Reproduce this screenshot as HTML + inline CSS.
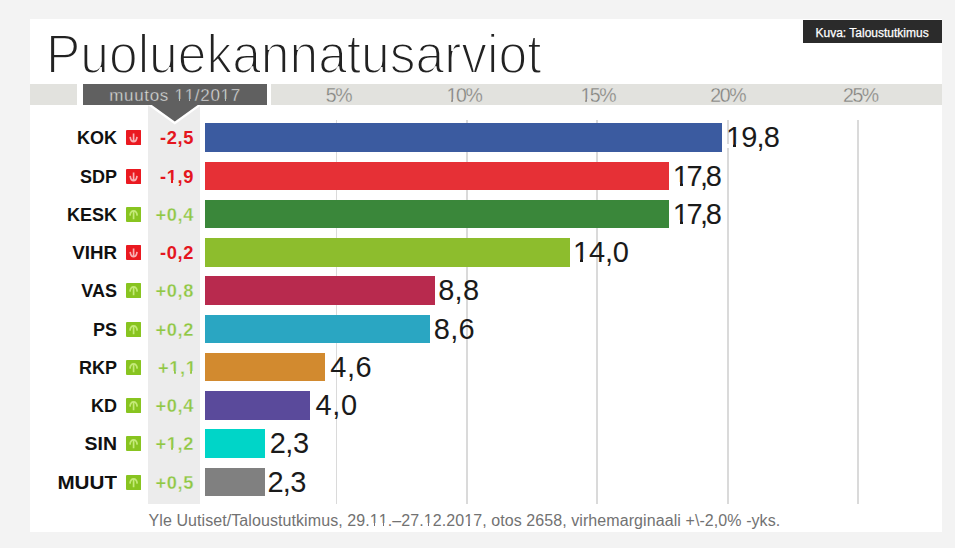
<!DOCTYPE html>
<html><head><meta charset="utf-8">
<style>
*{margin:0;padding:0;box-sizing:border-box}
html,body{width:955px;height:548px;overflow:hidden;background:#f3f3f3;font-family:"Liberation Sans",sans-serif}
.a{position:absolute}
#card{left:30px;top:18.5px;width:911.5px;height:513.3px;background:#fff}
#kuva{left:803px;top:20.3px;width:139px;height:22.5px;background:#2b2b2b;color:#fff;font-size:12px;line-height:23px;padding-top:1.5px;padding-left:12.5px;white-space:nowrap;-webkit-text-stroke:0.25px #fff}
#title{left:46px;top:24px;font-size:56px;line-height:60px;color:#222;white-space:nowrap;letter-spacing:0px;transform:scaleX(0.92);transform-origin:0 0;-webkit-text-stroke:1.9px #fff}
.hb{top:84px;height:21px;background:#e2e2de}
#dark{left:83px;top:84px;width:184px;height:21px;background:#606060;color:#e0e0e0;font-size:17px;line-height:23px;text-align:center;white-space:nowrap;letter-spacing:0.7px;-webkit-text-stroke:0.4px #606060}
.ax{top:84px;height:21px;line-height:23px;font-size:19.5px;color:#808080;width:60px;text-align:center;letter-spacing:-1.4px;-webkit-text-stroke:0.3px #e2e2de}
#chg{left:147.5px;top:105px;width:52.5px;height:398.5px;background:#ececec}
.gl{top:120px;width:1.8px;height:383.5px;background:#dadada}
.row{left:0;width:955px;height:28.7px}
.nm{position:absolute;transform-origin:100% 50%;right:838px;top:0;line-height:30px;font-size:18px;font-weight:bold;color:#111;white-space:nowrap}
.ic{position:absolute;left:125.5px;top:7.1px;width:15.2px;height:15px}
.cv{position:absolute;right:761px;top:0;line-height:29px;font-size:18.3px;font-weight:bold;white-space:nowrap;letter-spacing:0.6px}
.cdn{color:#e4161e}
.cup{color:#8fc743;-webkit-text-stroke:0.3px #ececec}
.bar{position:absolute;left:205.3px;top:0;height:28.7px}
.val{position:absolute;top:0;line-height:28.6px;font-size:29px;color:#1a1a1a;white-space:nowrap}

.one{position:relative}
.one::before,.one::after{content:"";position:absolute;bottom:calc(0.212em - 0.7px);height:calc(0.085em + 1.6px)}
.one::before{left:0.04em;width:0.21em}
.one::after{left:0.335em;width:0.22em}
.ov::before,.ov::after{background:#fff}
.oax::before,.oax::after{background:#e2e2de}
.odk::before,.odk::after{background:#606060}
.ocv::before,.ocv::after{background:#ececec;height:calc(0.105em + 1.6px);bottom:calc(0.212em - 0.7px)}
.ocv::before{left:0.03em;width:0.205em}
.ocv::after{left:0.365em;width:0.2em}
#foot{left:148.5px;top:510.7px;font-size:16px;line-height:20px;color:#727272;white-space:nowrap;letter-spacing:0.08px}
</style></head><body>
<div class="a" id="card"></div>
<div class="a" id="kuva">Kuva: Taloustutkimus</div>
<div class="a" id="title">Puoluekannatusarviot</div>
<div class="a hb" style="left:30px;width:47px"></div>
<div class="a hb" style="left:270.5px;width:671.5px"></div>
<div class="a ax" style="left:308.57px">5%</div>
<div class="a ax" style="left:433.95px"><span class="one oax">1</span>0%</div>
<div class="a ax" style="left:567.82px"><span class="one oax">1</span>5%</div>
<div class="a ax" style="left:697.70px">20%</div>
<div class="a ax" style="left:830.37px">25%</div>
<div class="a" id="chg"></div>
<div class="a gl" style="left:335.68px"></div>
<div class="a gl" style="left:466.05px"></div>
<div class="a gl" style="left:596.42px"></div>
<div class="a gl" style="left:726.80px"></div>
<div class="a gl" style="left:857.17px"></div>
<div class="a" id="dark">muutos <span class="one odk">1</span><span class="one odk">1</span>/20<span class="one odk">1</span>7</div>
<svg class="a" style="left:146px;top:101px" width="58" height="25" viewBox="146 101 58 25"><polygon points="146.6,102.6 203,102.6 174.8,123" fill="#606060" stroke="#fff" stroke-width="2.4"/><rect x="146" y="101" width="58" height="4" fill="#606060"/></svg>
<div class="a row" style="top:123.30px"><span class="nm" style="transform:scaleX(1.000)">KOK</span><svg class="ic" viewBox="0 0 14.5 14.5" preserveAspectRatio="none"><rect width="14.5" height="14.5" rx="1" fill="#ea1920"/><path d="M7.25 3.4V11.4M4 6.6C4.3 9.6 5.8 11.3 7.25 11.3C8.7 11.3 10.2 9.6 10.5 6.6" stroke="#f8b0b3" stroke-width="1.6" fill="none"/></svg><span class="cv cdn">-2,5</span><span class="bar" style="width:516.28px;background:#3b5ba0"></span><span class="val" style="left:725.89px;letter-spacing:-0.80px"><span class="one ov">1</span>9,8</span></div>
<div class="a row" style="top:161.55px"><span class="nm" style="transform:scaleX(1.000)">SDP</span><svg class="ic" viewBox="0 0 14.5 14.5" preserveAspectRatio="none"><rect width="14.5" height="14.5" rx="1" fill="#ea1920"/><path d="M7.25 3.4V11.4M4 6.6C4.3 9.6 5.8 11.3 7.25 11.3C8.7 11.3 10.2 9.6 10.5 6.6" stroke="#f8b0b3" stroke-width="1.6" fill="none"/></svg><span class="cv cdn">-<span class="one ocv">1</span>,9</span><span class="bar" style="width:464.13px;background:#e63036"></span><span class="val" style="left:672.83px;letter-spacing:-2.50px"><span class="one ov">1</span>7,8</span></div>
<div class="a row" style="top:199.80px"><span class="nm" style="transform:scaleX(1.000)">KESK</span><svg class="ic" viewBox="0 0 14.5 14.5" preserveAspectRatio="none"><rect width="14.5" height="14.5" rx="1" fill="#88c420"/><path d="M7.25 11.8V3.8M3.8 8.4C4.1 5.4 5.8 3.8 7.25 3.8C8.7 3.8 10.4 5.4 10.7 8.4" stroke="#c4ea78" stroke-width="1.6" fill="none"/></svg><span class="cv cup">+0,4</span><span class="bar" style="width:464.13px;background:#3a873a"></span><span class="val" style="left:672.83px;letter-spacing:-2.50px"><span class="one ov">1</span>7,8</span></div>
<div class="a row" style="top:238.05px"><span class="nm" style="transform:scaleX(1.040)">VIHR</span><svg class="ic" viewBox="0 0 14.5 14.5" preserveAspectRatio="none"><rect width="14.5" height="14.5" rx="1" fill="#ea1920"/><path d="M7.25 3.4V11.4M4 6.6C4.3 9.6 5.8 11.3 7.25 11.3C8.7 11.3 10.2 9.6 10.5 6.6" stroke="#f8b0b3" stroke-width="1.6" fill="none"/></svg><span class="cv cdn">-0,2</span><span class="bar" style="width:365.05px;background:#8dbd2d"></span><span class="val" style="left:573.05px;letter-spacing:-0.17px"><span class="one ov">1</span>4,0</span></div>
<div class="a row" style="top:276.30px"><span class="nm" style="transform:scaleX(1.000)">VAS</span><svg class="ic" viewBox="0 0 14.5 14.5" preserveAspectRatio="none"><rect width="14.5" height="14.5" rx="1" fill="#88c420"/><path d="M7.25 11.8V3.8M3.8 8.4C4.1 5.4 5.8 3.8 7.25 3.8C8.7 3.8 10.4 5.4 10.7 8.4" stroke="#c4ea78" stroke-width="1.6" fill="none"/></svg><span class="cv cup">+0,8</span><span class="bar" style="width:229.46px;background:#b82a4e"></span><span class="val" style="left:438.16px;letter-spacing:0.30px">8,8</span></div>
<div class="a row" style="top:314.55px"><span class="nm" style="transform:scaleX(1.000)">PS</span><svg class="ic" viewBox="0 0 14.5 14.5" preserveAspectRatio="none"><rect width="14.5" height="14.5" rx="1" fill="#88c420"/><path d="M7.25 11.8V3.8M3.8 8.4C4.1 5.4 5.8 3.8 7.25 3.8C8.7 3.8 10.4 5.4 10.7 8.4" stroke="#c4ea78" stroke-width="1.6" fill="none"/></svg><span class="cv cup">+0,2</span><span class="bar" style="width:224.24px;background:#2aa6c2"></span><span class="val" style="left:433.85px;letter-spacing:0.23px">8,6</span></div>
<div class="a row" style="top:352.80px"><span class="nm" style="transform:scaleX(1.000)">RKP</span><svg class="ic" viewBox="0 0 14.5 14.5" preserveAspectRatio="none"><rect width="14.5" height="14.5" rx="1" fill="#88c420"/><path d="M7.25 11.8V3.8M3.8 8.4C4.1 5.4 5.8 3.8 7.25 3.8C8.7 3.8 10.4 5.4 10.7 8.4" stroke="#c4ea78" stroke-width="1.6" fill="none"/></svg><span class="cv cup" style="right:758.5px">+<span class="one ocv">1</span>,<span class="one ocv">1</span></span><span class="bar" style="width:119.94px;background:#d28a2f"></span><span class="val" style="left:330.15px;letter-spacing:0.63px">4,6</span></div>
<div class="a row" style="top:391.05px"><span class="nm" style="transform:scaleX(1.000)">KD</span><svg class="ic" viewBox="0 0 14.5 14.5" preserveAspectRatio="none"><rect width="14.5" height="14.5" rx="1" fill="#88c420"/><path d="M7.25 11.8V3.8M3.8 8.4C4.1 5.4 5.8 3.8 7.25 3.8C8.7 3.8 10.4 5.4 10.7 8.4" stroke="#c4ea78" stroke-width="1.6" fill="none"/></svg><span class="cv cup">+0,4</span><span class="bar" style="width:104.30px;background:#5a4a9b"></span><span class="val" style="left:315.50px;letter-spacing:0.63px">4,0</span></div>
<div class="a row" style="top:429.30px"><span class="nm" style="transform:scaleX(1.080)">SIN</span><svg class="ic" viewBox="0 0 14.5 14.5" preserveAspectRatio="none"><rect width="14.5" height="14.5" rx="1" fill="#88c420"/><path d="M7.25 11.8V3.8M3.8 8.4C4.1 5.4 5.8 3.8 7.25 3.8C8.7 3.8 10.4 5.4 10.7 8.4" stroke="#c4ea78" stroke-width="1.6" fill="none"/></svg><span class="cv cup">+<span class="one ocv">1</span>,2</span><span class="bar" style="width:59.97px;background:#00d5c8"></span><span class="val" style="left:269.67px;letter-spacing:-0.43px">2,3</span></div>
<div class="a row" style="top:467.55px"><span class="nm" style="transform:scaleX(1.146)">MUUT</span><svg class="ic" viewBox="0 0 14.5 14.5" preserveAspectRatio="none"><rect width="14.5" height="14.5" rx="1" fill="#88c420"/><path d="M7.25 11.8V3.8M3.8 8.4C4.1 5.4 5.8 3.8 7.25 3.8C8.7 3.8 10.4 5.4 10.7 8.4" stroke="#c4ea78" stroke-width="1.6" fill="none"/></svg><span class="cv cup">+0,5</span><span class="bar" style="width:59.97px;background:#808080"></span><span class="val" style="left:267.47px;letter-spacing:-0.73px">2,3</span></div>
<div class="a" id="foot">Yle Uutiset/Taloustutkimus, 29.<span class="one ov">1</span><span class="one ov">1</span>.–27.<span class="one ov">1</span>2.20<span class="one ov">1</span>7, otos 2658, virhemarginaali +\-2,0% -yks.</div>
</body></html>
